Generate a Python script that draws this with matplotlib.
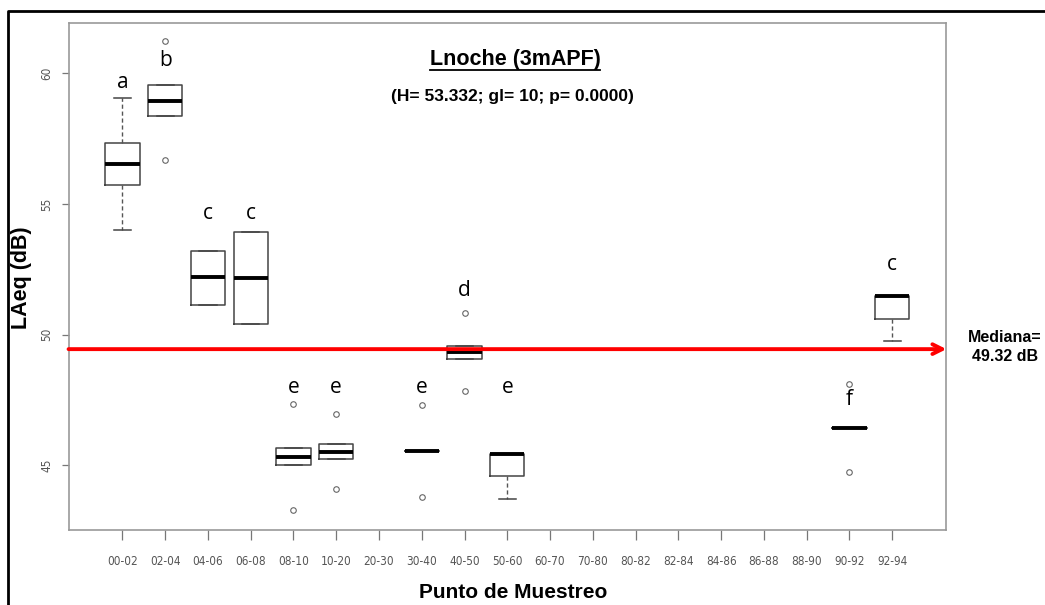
import matplotlib
matplotlib.use("Agg")
import matplotlib.pyplot as plt
from matplotlib.lines import Line2D

# sampling points (x axis)
puntos = ['00-02', '02-04', '04-06', '06-08', '08-10', '10-20', '20-30', '30-40',
          '40-50', '50-60', '60-70', '70-80', '80-82', '82-84', '84-86', '86-88',
          '88-90', '90-92', '92-94']

# box statistics (only the points that have data)
box_pos = [1, 2, 3, 4, 5, 6, 8, 9, 10, 18, 19]
whislo = [54.01, 58.38, 51.15, 50.40, 45.00, 45.26, 45.55, 49.07, 43.71, 46.44, 49.76]
q1 = [55.73, 58.38, 51.15, 50.40, 45.00, 45.26, 45.55, 49.07, 44.60, 46.44, 50.59]
med = [56.55, 58.96, 52.20, 52.16, 45.32, 45.53, 45.55, 49.35, 45.45, 46.44, 51.48]
q3 = [57.33, 59.54, 53.21, 53.92, 45.65, 45.82, 45.55, 49.56, 45.45, 46.44, 51.48]
whishi = [59.05, 59.54, 53.21, 53.92, 45.65, 45.82, 45.55, 49.56, 45.45, 46.44, 51.48]
fliers = [[], [61.24, 56.69], [], [], [47.34, 43.30], [46.96, 44.11], [47.31, 43.81],
          [50.82, 47.86], [], [48.13, 44.73], []]

# group letters above the boxes
letras = ['a', 'b', 'c', 'c', 'e', 'e', 'e', 'd', 'e', 'f', 'c']
letra_y = [59.64, 60.51, 54.65, 54.65, 47.99, 47.99, 47.99, 51.69, 47.99, 47.52, 52.67]

mediana_linea = 49.45
mediana_txt = 'Mediana=\n49.32 dB'
titulo = 'Lnoche (3mAPF)'
subtitulo = '(H= 53.332; gl= 10; p= 0.0000)'

plt.rcParams['font.family'] = ['Liberation Sans', 'DejaVu Sans']

fig = plt.figure(figsize=(10.45, 6.05), dpi=100)
ax = fig.add_axes([0.0656, 0.124, 0.9053 - 0.0656, 0.962 - 0.124])

stats = []
for i in range(len(box_pos)):
    stats.append(dict(whislo=whislo[i], q1=q1[i], med=med[i], q3=q3[i],
                      whishi=whishi[i], fliers=fliers[i]))

ax.bxp(stats, positions=box_pos, widths=0.8, showfliers=True,
       boxprops=dict(color='#444444', lw=1.1),
       medianprops=dict(color='black', lw=2.8, solid_capstyle='butt'),
       whiskerprops=dict(color='#555555', lw=1.0, ls=(0, (3, 2))),
       capprops=dict(color='#444444', lw=1.1),
       capwidths=0.4,
       flierprops=dict(marker='o', markersize=4, markerfacecolor='none',
                       markeredgecolor='#666666', markeredgewidth=0.8))

ax.set_xlim(-0.26, 20.26)
ax.set_ylim(42.53, 61.93)
ax.set_xticks(range(1, len(puntos) + 1))
ax.set_xticklabels(puntos, family=['DejaVu Sans'], fontstretch='condensed',
                   fontsize=8.5, color='#555555')
ax.set_yticks([45, 50, 55, 60])
ax.set_yticklabels(['45', '50', '55', '60'], rotation=90, va='center',
                   family=['DejaVu Sans'], fontstretch='condensed',
                   fontsize=8.5, color='#555555')
ax.tick_params(axis='x', length=7, width=0.9, color='#777777', pad=11)
ax.tick_params(axis='y', length=5, width=0.9, color='#777777', pad=6)
for s in ax.spines.values():
    s.set_color('#999999')
    s.set_linewidth(1.2)

for p, l, y in zip(box_pos, letras, letra_y):
    ax.text(p, y, l, ha='center', va='center', fontsize=15,
            family=['Open Sans', 'DejaVu Sans'])

# median reference arrow
ax.annotate('', xy=(20.27, mediana_linea), xytext=(-0.26, mediana_linea),
            annotation_clip=False,
            arrowprops=dict(arrowstyle='->,head_length=0.7,head_width=0.35',
                            color='red', lw=2.8, shrinkA=0, shrinkB=0))
fig.text(1005 / 1045, 1 - 347 / 605, mediana_txt, ha='center', va='center',
         fontsize=11.5, fontweight='bold', linespacing=1.3)

t = fig.text(515 / 1045, 1 - 60 / 605, titulo, ha='center', va='center',
             fontsize=15.5, fontweight='bold')
fig.text(512 / 1045, 1 - 97 / 605, subtitulo, ha='center', va='center',
         fontsize=12.5, fontweight='bold')
# underline the title
fig.canvas.draw()
bb = t.get_window_extent().transformed(fig.transFigure.inverted())
fig.add_artist(Line2D([bb.x0, bb.x1], [1 - 70 / 605, 1 - 70 / 605],
                      transform=fig.transFigure, color='black', lw=1.3))

fig.text(22 / 1045, 1 - 278 / 605, 'LAeq (dB)', rotation=90, ha='center',
         va='center', fontsize=15.5, fontweight='bold')
fig.text(513 / 1045, 1 - 592 / 605, 'Punto de Muestreo', ha='center',
         va='center', fontsize=15, fontweight='bold')

# outer frame of the original figure (left and top edges)
fig.add_artist(Line2D([7.5 / 1045, 7.5 / 1045, 1.0], [0.0, 1 - 10.7 / 605, 1 - 10.7 / 605],
                      transform=fig.transFigure, color='black', lw=2))

fig.savefig('out.png', dpi=100)
